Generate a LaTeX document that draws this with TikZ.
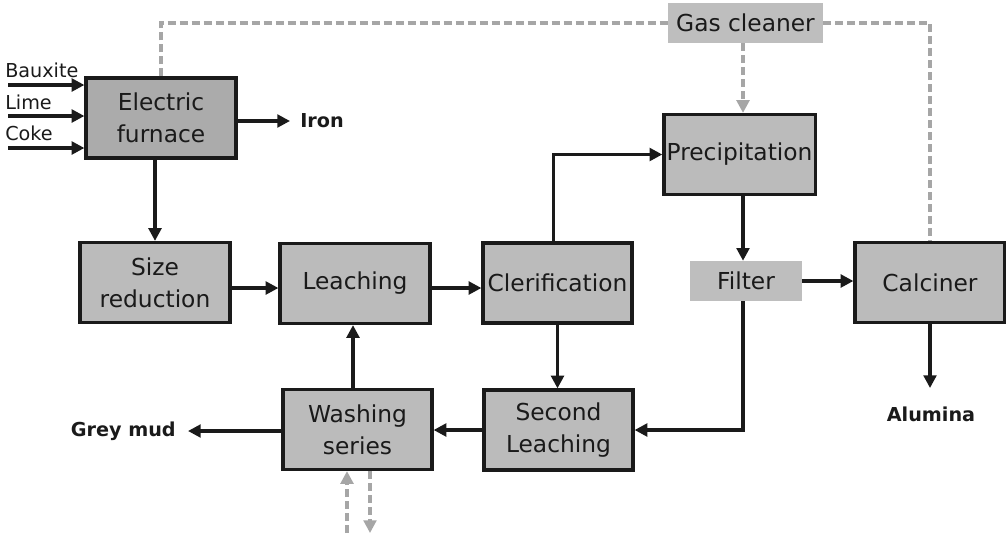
\documentclass[tikz,border=0pt]{standalone}
\usepackage{fontspec}
\setmainfont{DejaVu Sans}
\usetikzlibrary{arrows.meta}
\definecolor{boxfill}{HTML}{BBBBBB}
\definecolor{darkfill}{HTML}{ABABAB}
\definecolor{lightfill}{HTML}{BEBEBE}
\definecolor{ink}{HTML}{1A1A1A}
\definecolor{dashgray}{HTML}{A6A6A6}
\tikzset{
  proc/.style={draw=ink, line width=2.4pt, fill=boxfill, text=ink, align=center,
    minimum width=150*0.75pt, minimum height=80*0.75pt, inner sep=2pt,
    font=\fontsize{17.5}{24}\selectfont},
  plain/.style={fill=lightfill, text=ink, align=center, inner sep=2pt,
    font=\fontsize{17.5}{24}\selectfont},
  lab/.style={text=ink, font=\fontsize{14.4}{17}\selectfont, inner sep=0pt},
  blab/.style={text=ink, font=\bfseries\fontsize{14.4}{17}\selectfont, inner sep=0pt},
  flow/.style={draw=ink, line width=2.3pt, -{Triangle[length=9.5pt,width=9.5pt]}},
  gasflow/.style={draw=dashgray, line width=2.3pt, dash pattern=on 6pt off 3pt},
  gasarrow/.style={gasflow, -{Triangle[length=9.5pt,width=9.5pt]}},
}
\begin{document}
\begin{tikzpicture}[x=0.75pt,y=-0.75pt]
\useasboundingbox (0,0) rectangle (1006,533);
% process boxes
\node[proc, fill=darkfill] (ef) at (161,118) {Electric\\furnace};
\node[proc] (sr) at (155,282.5) {Size\\reduction};
\node[proc] (le) at (355,283.5) {Leaching};
\node[proc, minimum width=149*0.75pt] (cl) at (557.5,283) {Clerification};
\node[proc, minimum width=149*0.75pt] (pr) at (739.5,154.5) {Precipitation};
\node[plain, minimum width=112*0.75pt, minimum height=40*0.75pt] (fi) at (746,281) {Filter};
\node[proc] (ca) at (930,282.5) {Calciner};
\node[plain, minimum width=155*0.75pt, minimum height=40*0.75pt] (gc) at (745.5,23) {Gas cleaner};
\node[proc, minimum width=149*0.75pt] (ws) at (357.5,429.5) {Washing\\series};
\node[proc, minimum width=149*0.75pt] (sl) at (558.5,430) {Second\\Leaching};
% labels
\node[lab, anchor=west] (bx) at (5,70) {Bauxite};
\node[lab, anchor=west] (li) at (5,102) {Lime};
\node[lab, anchor=west] (co) at (5,133) {Coke};
\node[blab, anchor=west] (ir) at (300,121) {Iron};
\node[blab, anchor=east] (gm) at (176,431) {Grey mud};
\node[blab] (al) at (931,414) {Alumina};
% free ends
\coordinate (i1) at (8,85);
\coordinate (i2) at (8,116);
\coordinate (i3) at (8,148);
\coordinate (ire) at (290,121);
\coordinate (gme) at (188,431);
\coordinate (ale) at (930,388);
\coordinate (wup) at (347,533);
\coordinate (wdn) at (370,533);
% solid flows
\draw[flow] (i1) -- (i1 -| ef.west);
\draw[flow] (i2) -- (i2 -| ef.west);
\draw[flow] (i3) -- (i3 -| ef.west);
\draw[flow] (ef.east |- ire) -- (ire);
\draw[flow] (ef.south -| sr.north) -- (sr.north);
\draw[flow] (sr.east |- 0,288) -- (le.west |- 0,288);
\draw[flow] (le.east |- 0,288) -- (cl.west |- 0,288);
\draw[flow] ([xshift=-3pt]cl.north) |- (pr.west);
\draw[flow] (pr.south -| 743,0) -- (fi.north -| 743,0);
\draw[flow] (fi.east) -- (fi.east -| ca.west);
\draw[flow] (fi.south -| 743,0) |- (sl.east);
\draw[flow] (cl.south) -- (sl.north -| cl.south);
\draw[flow] (sl.west) -- (sl.west -| ws.east);
\draw[flow] (ws.north -| 353,0) -- (le.south -| 353,0);
\draw[flow] (ws.west |- gme) -- (gme);
\draw[flow] (ca.south) -- (ale);
% gas flows
\draw[gasflow] (ef.north) |- (gc.west);
\draw[gasflow] (gc.east) -| (ca.north);
\draw[gasarrow] (gc.south -| 743,0) -- (pr.north -| 743,0);
\draw[gasarrow] (wup) -- (wup |- ws.south);
\draw[gasarrow] (wdn |- ws.south) -- (wdn);
\end{tikzpicture}
\end{document}
